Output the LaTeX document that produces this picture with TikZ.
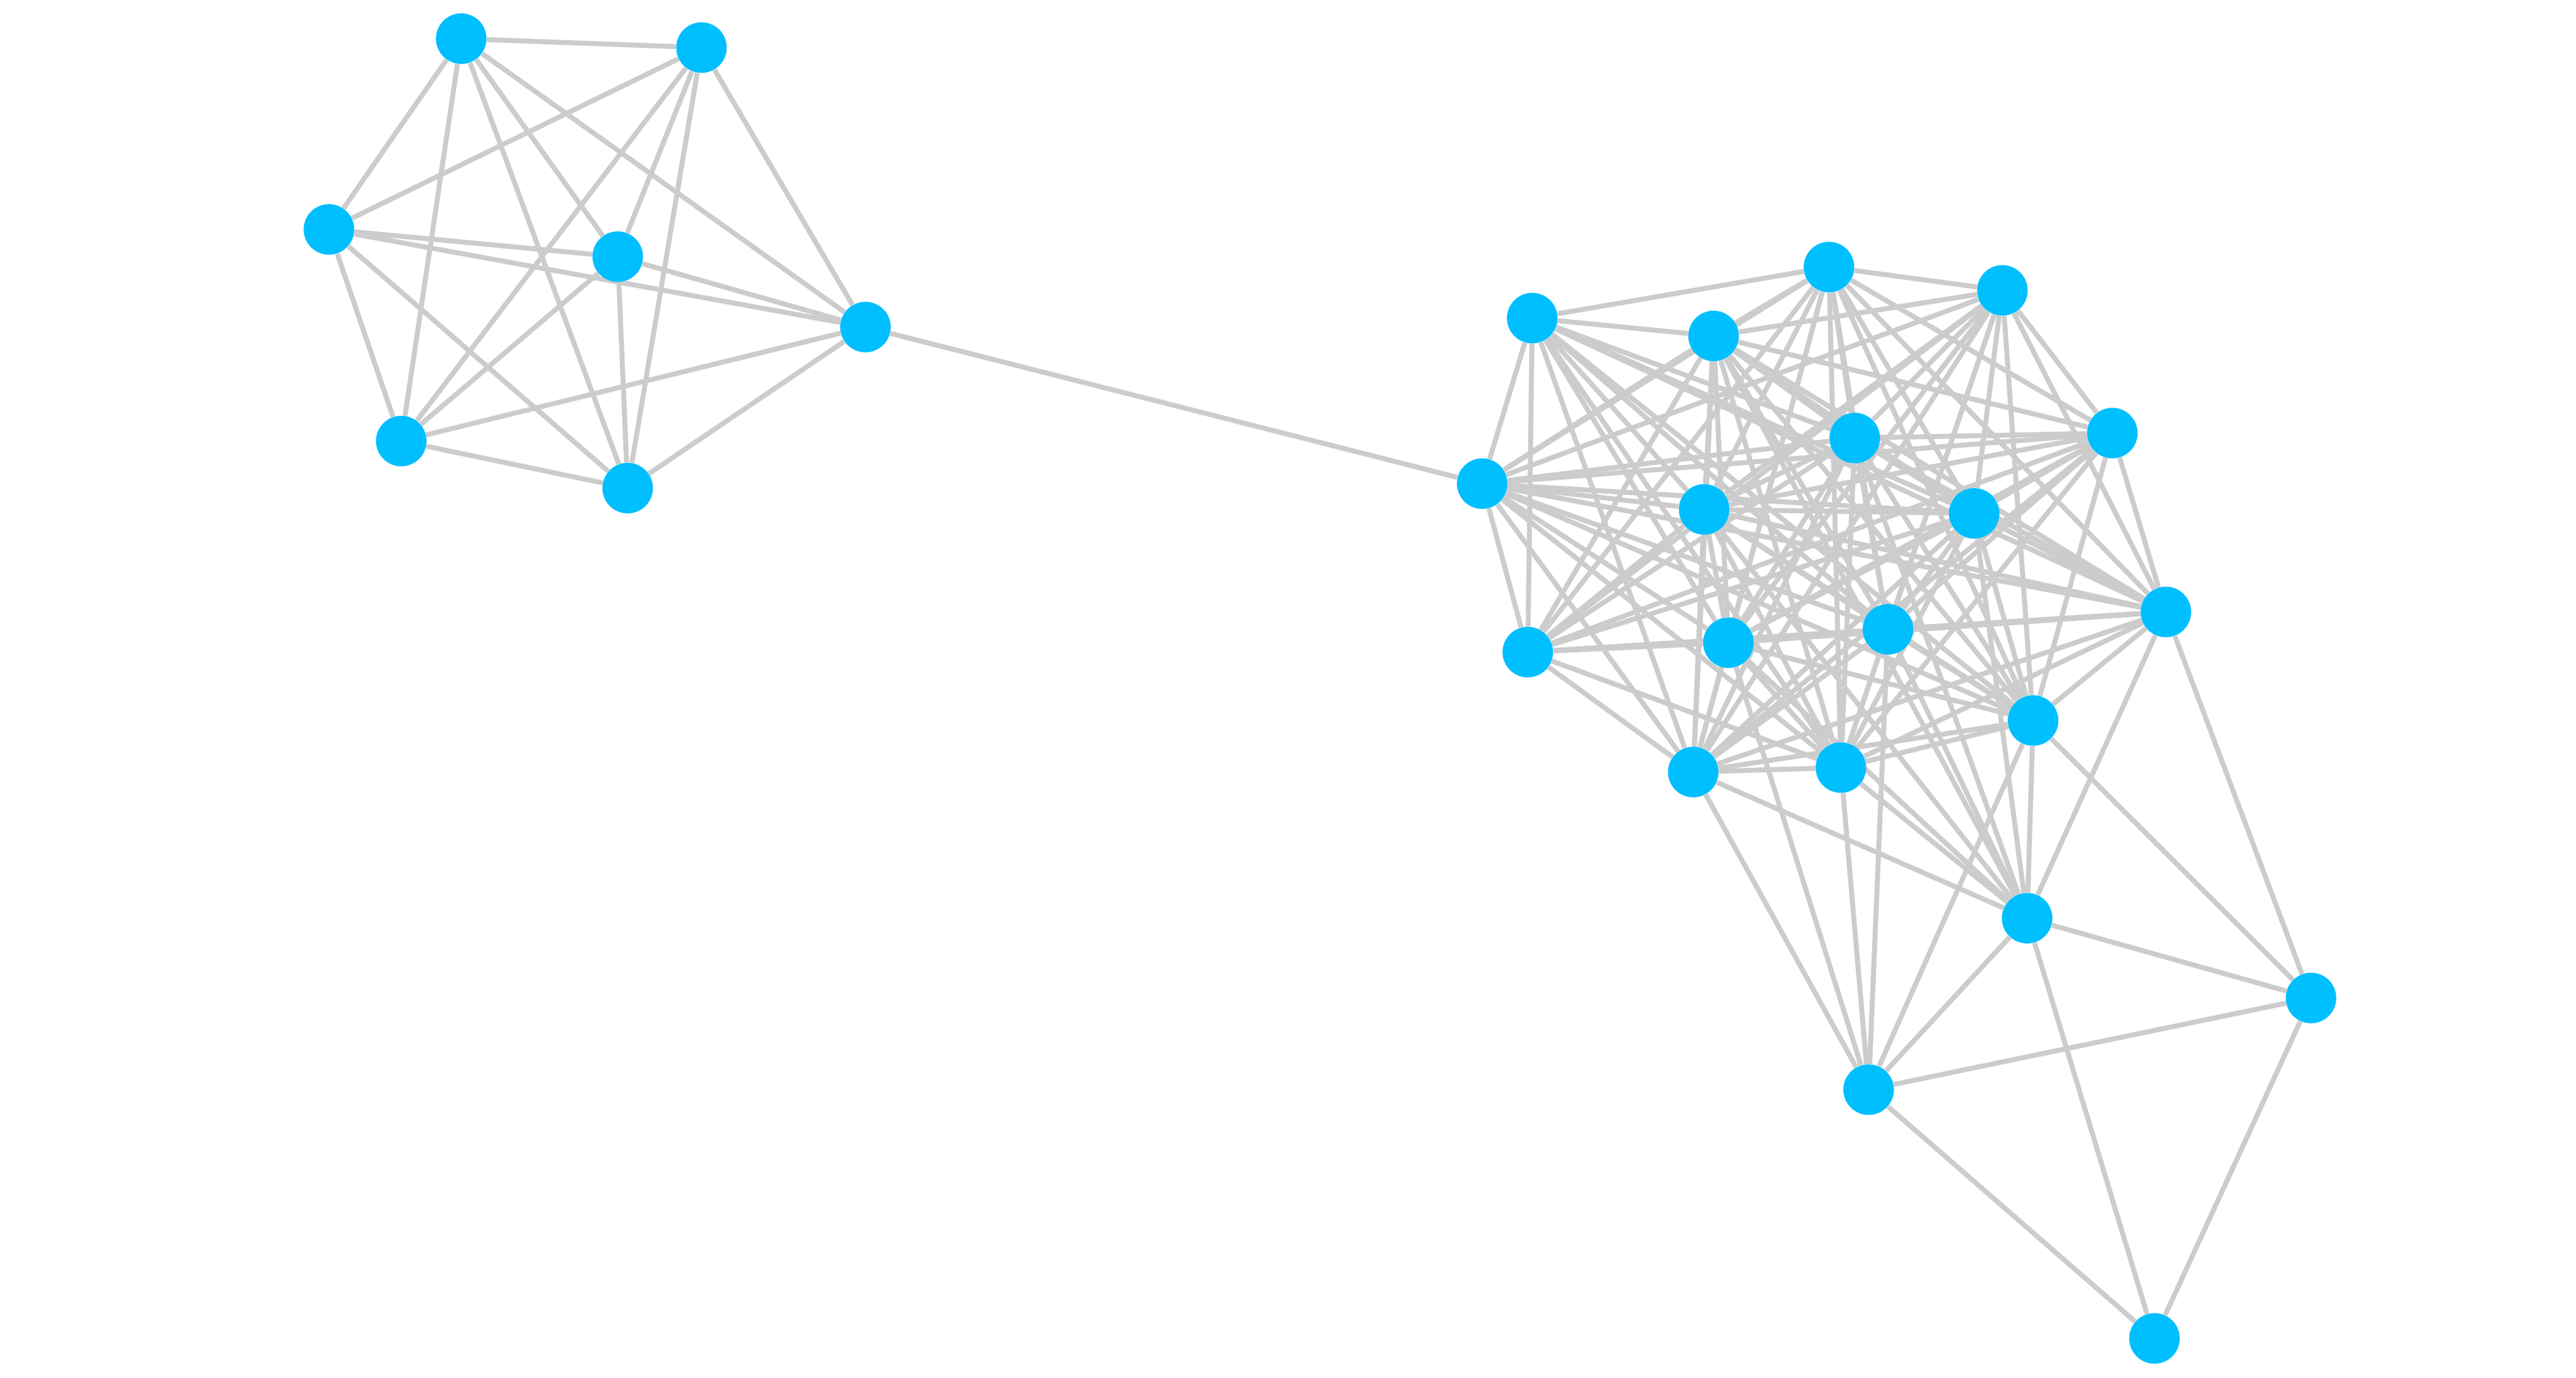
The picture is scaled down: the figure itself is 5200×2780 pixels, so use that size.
\documentclass[tikz,border=0pt]{standalone}
\usetikzlibrary{backgrounds}
\definecolor{nodeblue}{HTML}{00BFFF}
\definecolor{edgegray}{HTML}{CCCCCC}
\expandafter\def\csname skip1-4\endcsname{}
\expandafter\def\csname skip1-5\endcsname{}
\expandafter\def\csname skip11-14\endcsname{}
\tikzset{
  vtx/.style={circle, fill=nodeblue, draw=none, inner sep=0pt, minimum size=1.02cm},
  link/.style={draw=edgegray, line width=0.10cm}
}
\begin{document}
\begin{tikzpicture}[x=0.01cm,y=-0.01cm]
\path[use as bounding box] (0,0) rectangle (5200,2780);
% left cluster
\node[vtx] (l1) at (931,78) {};
\node[vtx] (l2) at (1416,96) {};
\node[vtx] (l3) at (664,463) {};
\node[vtx] (l4) at (1247,518) {};
\node[vtx] (l5) at (1747,660) {};
\node[vtx] (l6) at (810,890) {};
\node[vtx] (l7) at (1267,985) {};
% right cluster
\node[vtx] (r1) at (3093,642) {};
\node[vtx] (r2) at (3459,678) {};
\node[vtx] (r3) at (3692,539) {};
\node[vtx] (r4) at (4042,586) {};
\node[vtx] (r5) at (4264,874) {};
\node[vtx] (r6) at (3744,884) {};
\node[vtx] (r7) at (2992,976) {};
\node[vtx] (r8) at (3440,1028) {};
\node[vtx] (r9) at (3985,1036) {};
\node[vtx] (r10) at (4372,1235) {};
\node[vtx] (r11) at (3084,1316) {};
\node[vtx] (r12) at (3489,1297) {};
\node[vtx] (r13) at (3811,1270) {};
\node[vtx] (r14) at (4104,1454) {};
\node[vtx] (r15) at (3418,1558) {};
\node[vtx] (r16) at (3716,1549) {};
\node[vtx] (r17) at (4092,1853) {};
\node[vtx] (r18) at (4665,2014) {};
\node[vtx] (r19) at (3772,2199) {};
\node[vtx] (r20) at (4349,2701) {};
\begin{scope}[on background layer]
\foreach \i in {1,...,7}{
  \foreach \j in {1,...,7}{
    \ifnum\i<\j \draw[link] (l\i) -- (l\j);\fi
  }
}
\foreach \i in {1,...,16}{
  \foreach \j in {1,...,16}{
    \ifnum\i<\j
      \ifcsname skip\i-\j\endcsname\else\draw[link] (r\i) -- (r\j);\fi
    \fi
  }
}
\foreach \a/\b in {l5/r7, r17/r2, r17/r6, r17/r8, r17/r9, r17/r10, r17/r12, r17/r13, r17/r14, r17/r15, r17/r16, r17/r18, r17/r19, r17/r20, r18/r10, r18/r14, r18/r19, r18/r20, r19/r12, r19/r13, r19/r14, r19/r15, r19/r16, r19/r20}
  \draw[link] (\a) -- (\b);
\end{scope}
\end{tikzpicture}
\end{document}
